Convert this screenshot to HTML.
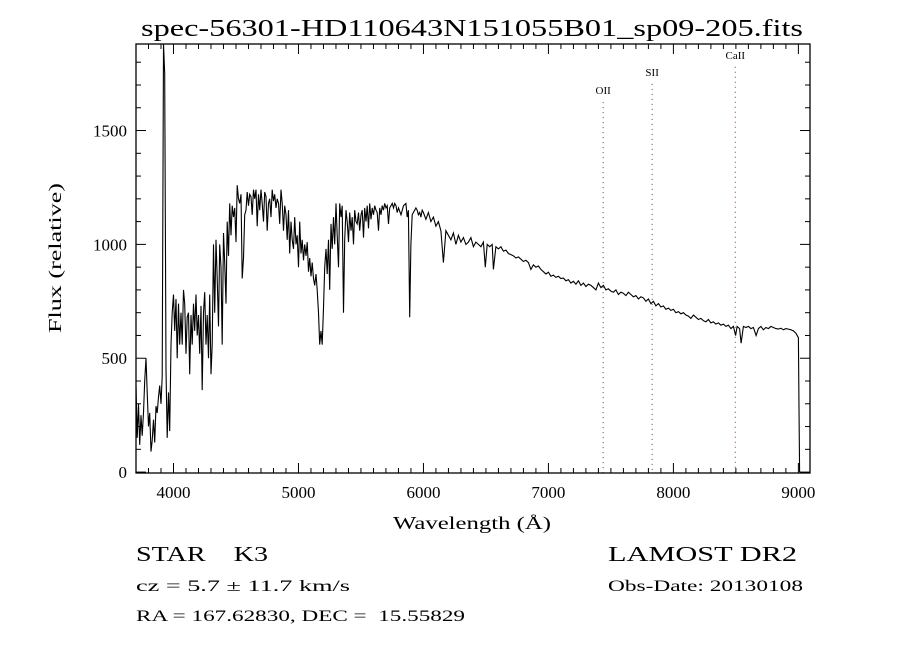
<!DOCTYPE html>
<html><head><meta charset="utf-8"><style>
html,body{margin:0;padding:0;background:#fff}
svg{display:block;font-family:"Liberation Serif",serif}
svg text{white-space:pre}
</style></head><body>
<svg id="chart" width="900" height="650" viewBox="0 0 900 650" xml:space="preserve">
<rect width="900" height="650" fill="#fff"/>
<text x="472" y="36" font-size="24" text-anchor="middle" textLength="662" lengthAdjust="spacingAndGlyphs">spec-56301-HD110643N151055B01_sp09-205.fits</text>
<g id="grid"></g>
<g id="lines"></g>
<rect x="136" y="44" width="674" height="429" fill="none" stroke="#000" stroke-width="1.3"/>
<g id="ticks"></g>
<path id="spec" fill="none" stroke="#000" stroke-width="1.1"/>
<text x="472" y="529" font-size="18" text-anchor="middle" textLength="158" lengthAdjust="spacingAndGlyphs">Wavelength (Å)</text>
<text transform="translate(61,258) rotate(-90)" font-size="18" text-anchor="middle" textLength="150" lengthAdjust="spacingAndGlyphs">Flux (relative)</text>
<text x="136" y="561" font-size="21" textLength="132" lengthAdjust="spacingAndGlyphs">STAR    K3</text>
<text x="136" y="591" font-size="16" textLength="214" lengthAdjust="spacingAndGlyphs">cz = 5.7 ± 11.7 km/s</text>
<text x="136" y="621" font-size="16" textLength="329" lengthAdjust="spacingAndGlyphs">RA = 167.62830, DEC =  15.55829</text>
<text x="608" y="561" font-size="21" textLength="189" lengthAdjust="spacingAndGlyphs">LAMOST DR2</text>
<text x="608" y="591" font-size="16" textLength="195" lengthAdjust="spacingAndGlyphs">Obs-Date: 20130108</text>
</svg>
<script>
const wavelengths=[3700,3710,3720,3730,3740,3750,3760,3770,3780,3790,3800,3810,3820,3830,3840,3850,3860,3870,3880,3890,3900,3910,3920,3930,3940,3950,3960,3970,3980,3990,4000,
4010,4020,4030,4040,4050,4060,4070,4080,4090,4100,4110,4120,4130,4140,4150,4160,4170,4180,4190,4200,4210,4220,4230,4240,4250,4260,4270,4280,4290,4300,4310,4320,4330,4340,4350,4360,4370,4380,4390,4400,4410,4420,4430,4440,4450,4460,4470,4480,4490,4500,4510,4520,4530,4540,4550,4560,4570,4580,4590,4600,4610,4620,4630,4640,4650,4660,4670,4680,4690,4700,4710,4720,4730,4740,4750,4760,4770,4780,4790,4800,4810,4820,4830,4840,4850,4860,4870,4880,4890,4900,4910,4920,4930,4940,4950,4960,4970,4980,4990,5000,5010,5020,5030,5040,5050,5060,5070,5080,5090,5100,5110,5120,5130,5140,5150,5160,5170,5180,5190,5200,5210,5220,5230,5240,5250,5260,5270,5280,5290,5300,5310,5320,5330,5340,5350,5360,5370,5380,5390,5400,5410,5420,5430,5440,5450,5460,5470,5480,5490,5500,5510,5520,5530,5540,5550,5560,5570,5580,5590,5600,5610,5620,5630,5640,5650,5660,5670,5680,5690,5700,5710,5720,5730,5740,5750,5760,5770,5780,5790,5800,5820,5840,5860,5870,5880,5890,5900,5910,5920,5930,5940,5950,5960,5970,5980,5990,6000,
6020,6040,6060,6080,6100,6120,6140,6160,6180,6200,6220,6240,6260,6280,6300,6320,6340,6360,6380,6400,6420,6440,6460,6480,6495,6510,6530,6550,6560,6580,6600,6620,6640,6660,6680,6700,6720,6740,6760,6780,6800,6820,6840,6860,6880,6900,6920,6940,6960,6980,7000,7020,7040,7060,7080,7100,7120,7140,7160,7180,7200,7220,7240,7260,7280,7300,7320,7340,7360,7380,7400,7420,7440,7460,7480,7500,7520,7540,7560,7580,7600,7620,7640,7660,7680,7700,7720,7740,7760,7780,7800,7820,7840,7860,7880,7900,7920,7940,7960,7980,8000,8020,8040,8060,8080,8100,8120,8140,8160,8180,8200,8220,8240,8260,8280,8300,8320,8340,8360,8380,8400,8420,8440,8460,8480,8498,8510,8530,8542,8560,8580,8600,8620,8640,8662,8680,8700,8720,8740,8760,8780,8800,8820,8840,8860,8880,8900,8920,8940,8960,8980,9000,9005,9010];
const fluxes=[380,150,300,120,250,160,260,400,500,350,200,260,90,140,230,130,290,260,330,380,300,420,1886,1750,450,150,350,180,560,700,780,
620,760,500,740,560,700,560,800,740,520,680,700,430,690,560,740,620,780,600,690,520,730,360,700,790,560,690,500,780,430,560,1000,700,1020,850,640,1000,900,560,1050,920,740,1100,950,1180,1040,1170,1120,1160,1010,1260,1200,1180,1220,850,940,1130,1150,1230,1170,1220,1210,1130,1240,1200,1240,1080,1220,1150,1240,1180,1100,1230,1210,1060,1180,1200,1120,1240,1190,1220,1160,1200,1180,1090,1240,1180,1060,1170,1130,1020,1150,960,1100,1020,980,1120,1000,1040,900,1100,960,1020,930,1000,950,1010,880,940,860,920,850,820,870,800,700,560,620,560,720,900,980,870,1020,800,1090,980,1120,1000,1180,1040,900,1180,1120,1170,700,1020,1150,1100,1010,1140,1060,1120,1000,1150,1100,1090,1140,1060,1130,1150,1030,1160,1100,1170,1070,1180,1110,1160,1130,1170,1150,1140,1060,1160,1130,1170,1150,1180,1160,1170,1090,1160,1170,1180,1160,1180,1170,1140,1160,1130,1170,1180,1120,1150,680,1000,1130,1140,1150,1160,1150,1130,1140,1120,1150,1140,
1110,1140,1100,1120,1080,1100,1060,920,1060,1040,1020,1050,1000,1040,1010,1030,1000,1010,1030,990,1010,1000,990,1010,900,1000,990,1000,890,990,980,990,970,975,960,955,950,940,945,935,925,930,920,890,910,900,905,890,880,870,878,860,865,855,860,850,852,840,845,830,838,825,840,820,830,815,825,820,810,800,830,810,820,800,805,795,790,800,780,790,785,775,790,780,770,775,760,770,765,750,760,740,750,730,740,725,730,715,720,710,715,700,705,695,700,690,685,675,690,680,670,675,665,660,670,655,660,650,655,645,650,640,645,630,640,600,640,630,566,640,635,640,630,635,600,630,640,625,635,630,640,635,630,628,632,625,630,628,625,620,610,590,280,0];
const xTickValues=[4000,5000,6000,7000,8000,9000];
const yTickValues=[0,500,1000,1500];
const lineNames=["OII","SII","CaII"];
const lineWavelengths=[7438,7830,8495];
const lineLabelFlux=[1660,1740,1815];

const NS="http://www.w3.org/2000/svg";
const X0=136,X1=810,Y0=473,Y1=44,WMIN=3700,WMAX=9093,FMIN=-4,FMAX=1880;
function xs(w){return X0+(w-WMIN)/(WMAX-WMIN)*(X1-X0);}
function ys(f){return Y0-(f-FMIN)/(FMAX-FMIN)*(Y0-Y1);}
function mk(tag,attrs,parent){const e=document.createElementNS(NS,tag);for(const k in attrs)e.setAttribute(k,attrs[k]);parent.appendChild(e);return e;}
const ticks=document.getElementById('ticks');
for(let w=3800;w<=9000;w+=100){
  const major=w%1000===0;const L=major?10:5;const x=xs(w);
  const t1=mk('line',{x1:x,x2:x,y1:Y0,y2:Y0-L,stroke:'#000'},ticks);
  
  
  const t2=mk('line',{x1:x,x2:x,y1:Y1,y2:Y1+L,stroke:'#000'},ticks);
  
  
}
xTickValues.forEach(v=>{
  const t=mk('text',{x:xs(v),y:Y0+25,'font-size':17,'text-anchor':'middle'},ticks);
  t.textContent=v;
  
  
});
for(let f=0;f<=1800;f+=100){
  const major=f%500===0;const L=major?10:5;const y=ys(f);
  const t1=mk('line',{x1:X0,x2:X0+L,y1:y,y2:y,stroke:'#000'},ticks);
  
  
  const t2=mk('line',{x1:X1,x2:X1-L,y1:y,y2:y,stroke:'#000'},ticks);
  
  
}
yTickValues.forEach(v=>{
  const t=mk('text',{x:127,y:ys(v)+6,'font-size':17,'text-anchor':'end'},ticks);
  t.textContent=v;
  
  
});
const lines=document.getElementById('lines');
lineNames.forEach((n,i)=>{
  const x=xs(lineWavelengths[i]);
  const l=mk('line',{x1:x,x2:x,y1:ys(lineLabelFlux[i])+8,y2:Y0,stroke:'#6a3a3a','stroke-dasharray':'1,4','stroke-width':1},lines);
  
  
  const t=mk('text',{x:x,y:ys(lineLabelFlux[i]),'font-size':11,'text-anchor':'middle'},lines);
  t.textContent=n;
  
  
});
let d='';
wavelengths.forEach((w,i)=>{
  const y=Math.max(Y1,Math.min(Y0,ys(fluxes[i])));
  d+=(i?'L':'M')+xs(w).toFixed(1)+','+y.toFixed(1);
});
document.getElementById('spec').setAttribute('d',d);
</script>
</body></html>
